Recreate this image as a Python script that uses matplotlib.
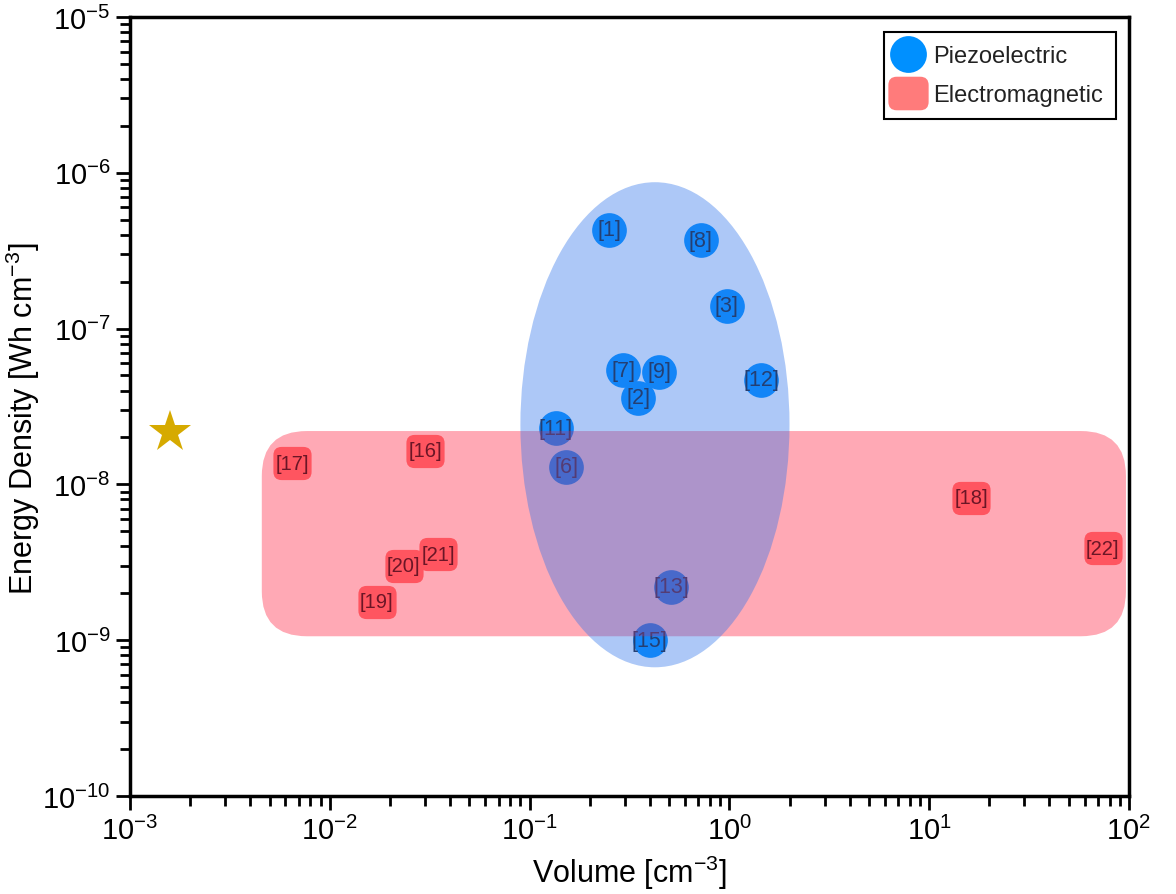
import numpy as np
import matplotlib
matplotlib.use("Agg")
import matplotlib.pyplot as plt
from matplotlib.patches import Ellipse, FancyBboxPatch, BoxStyle
from matplotlib.lines import Line2D
from matplotlib.transforms import Affine2D
from matplotlib.ticker import LogLocator, NullFormatter

plt.rcParams['font.family'] = ['Liberation Sans', 'DejaVu Sans']
plt.rcParams['mathtext.fontset'] = 'custom'
plt.rcParams['mathtext.rm'] = 'Liberation Sans'
plt.rcParams['mathtext.it'] = 'Liberation Sans:italic'
plt.rcParams['mathtext.bf'] = 'Liberation Sans:bold'
plt.rcParams['mathtext.default'] = 'regular'

# Piezoelectric harvesters
piezo_refs = ['[1]', '[8]', '[3]', '[7]', '[9]', '[2]', '[12]', '[11]', '[6]', '[13]', '[15]']
piezo_volume = [0.25, 0.72, 0.97, 0.295, 0.445, 0.35, 1.44, 0.135, 0.153, 0.51, 0.40]
piezo_energy = [4.3e-7, 3.7e-7, 1.4e-7, 5.4e-8, 5.3e-8, 3.6e-8, 4.7e-8, 2.3e-8, 1.3e-8, 2.2e-9, 1.0e-9]

# Electromagnetic harvesters
em_refs = ['[17]', '[16]', '[18]', '[22]', '[20]', '[21]', '[19]']
em_volume = [0.0065, 0.030, 16.2, 74.0, 0.0234, 0.035, 0.0172]
em_energy = [1.37e-8, 1.64e-8, 8.2e-9, 3.9e-9, 3.0e-9, 3.57e-9, 1.76e-9]

# This work
star_volume = [0.00158]
star_energy = [2.17e-8]

# Shaded regions grouping each technology
piezo_region_volume = [0.090, 2.0]
piezo_region_energy = [6.7e-10, 8.7e-7]
em_region_volume = [0.00457, 96.6]
em_region_energy = [1.06e-9, 2.2e-8]

BLUE = '#0090ff'
SALMON = '#ff7d7d'
TEXT = '#1c1c24'


def rounded_square(w, h, r):
    return BoxStyle.Round(pad=0, rounding_size=r)(-w / 2, -h / 2, w, h, 1.0)


rsq = rounded_square(1.15, 1.0, 0.25)
rsq_leg = rounded_square(1.2, 1.0, 0.25)

fig = plt.figure(figsize=(11.76, 8.95), dpi=100)
ax = fig.add_axes([0.1105, 0.1095, 0.8495, 0.8704])
ax.set_xscale('log')
ax.set_yscale('log')
ax.set_xlim(1e-3, 1e2)
ax.set_ylim(1e-10, 1e-5)

# Points with reference labels
ax.plot(piezo_volume, piezo_energy, ls='none', marker='o', ms=25, color=BLUE,
        mew=0, zorder=2)
for r, x, y in zip(piezo_refs, piezo_volume, piezo_energy):
    ax.text(x, y, r, ha='center', va='center', fontsize=15.5, color=TEXT, zorder=2.1)

ax.plot(em_volume, em_energy, ls='none', marker=rsq, ms=27.5, color=SALMON,
        mew=0, zorder=2)
for r, x, y in zip(em_refs, em_volume, em_energy):
    ax.text(x, y, r, ha='center', va='center', fontsize=14.5, color=TEXT, zorder=2.1)

# Regions are laid out in log-decade space
lx = np.log10(ax.get_xlim())
ly = np.log10(ax.get_ylim())
log_to_axes = (Affine2D().translate(-lx[0], -ly[0])
               .scale(1 / (lx[1] - lx[0]), 1 / (ly[1] - ly[0])) + ax.transAxes)

ex = np.log10(em_region_volume)
ey = np.log10(em_region_energy)
rect = FancyBboxPatch((ex[0], ey[0]), ex[1] - ex[0], ey[1] - ey[0],
                      boxstyle='round,pad=0,rounding_size=0.225', mutation_aspect=1.28,
                      transform=log_to_axes, facecolor=(1.0, 11 / 255, 43 / 255),
                      alpha=0.35, edgecolor='none', zorder=3)
ax.add_patch(rect)

px = np.log10(piezo_region_volume)
py = np.log10(piezo_region_energy)
ell = Ellipse((px.mean(), py.mean()), px[1] - px[0], py[1] - py[0],
              transform=log_to_axes, facecolor=(50 / 255, 118 / 255, 235 / 255),
              alpha=0.4, edgecolor='none', zorder=4)
ax.add_patch(ell)

ax.plot(star_volume, star_energy, ls='none', marker='*', ms=32, color='#d6aa00',
        mew=0, zorder=5)

# Axes styling
for s in ax.spines.values():
    s.set_linewidth(2.5)
for axis in (ax.xaxis, ax.yaxis):
    axis.set_major_locator(LogLocator(base=10, numticks=20))
    axis.set_minor_locator(LogLocator(base=10, subs=np.arange(2, 10), numticks=20))
    axis.set_minor_formatter(NullFormatter())
ax.tick_params(which='both', direction='out', top=False, right=False, width=2,
               labelsize=21, color='black')
ax.tick_params(which='major', length=10, pad=4)
ax.tick_params(which='minor', length=7)

ax.set_xlabel(r'Volume [cm$^{-3}$]', fontsize=22, labelpad=6)
ax.set_ylabel(r'Energy Density [Wh cm$^{-3}$]', fontsize=22)
ax.yaxis.set_label_coords(-0.088, 0.485)

handles = [
    Line2D([], [], ls='none', marker='o', ms=26.5, color=BLUE, mew=0, label='Piezoelectric'),
    Line2D([], [], ls='none', marker=rsq_leg, ms=29, color='#ff7b7b', mew=0, label='Electromagnetic'),
]
leg = ax.legend(handles=handles, loc='upper right', bbox_to_anchor=(0.987, 0.981),
                fontsize=17, frameon=True, fancybox=False, edgecolor='black',
                framealpha=1, handlelength=1.0, handletextpad=0.55, borderpad=0.55,
                borderaxespad=0, labelspacing=0.75)
leg.get_frame().set_linewidth(1.5)
for t in leg.get_texts():
    t.set_color('#222222')

fig.savefig('out.png', dpi=100)
